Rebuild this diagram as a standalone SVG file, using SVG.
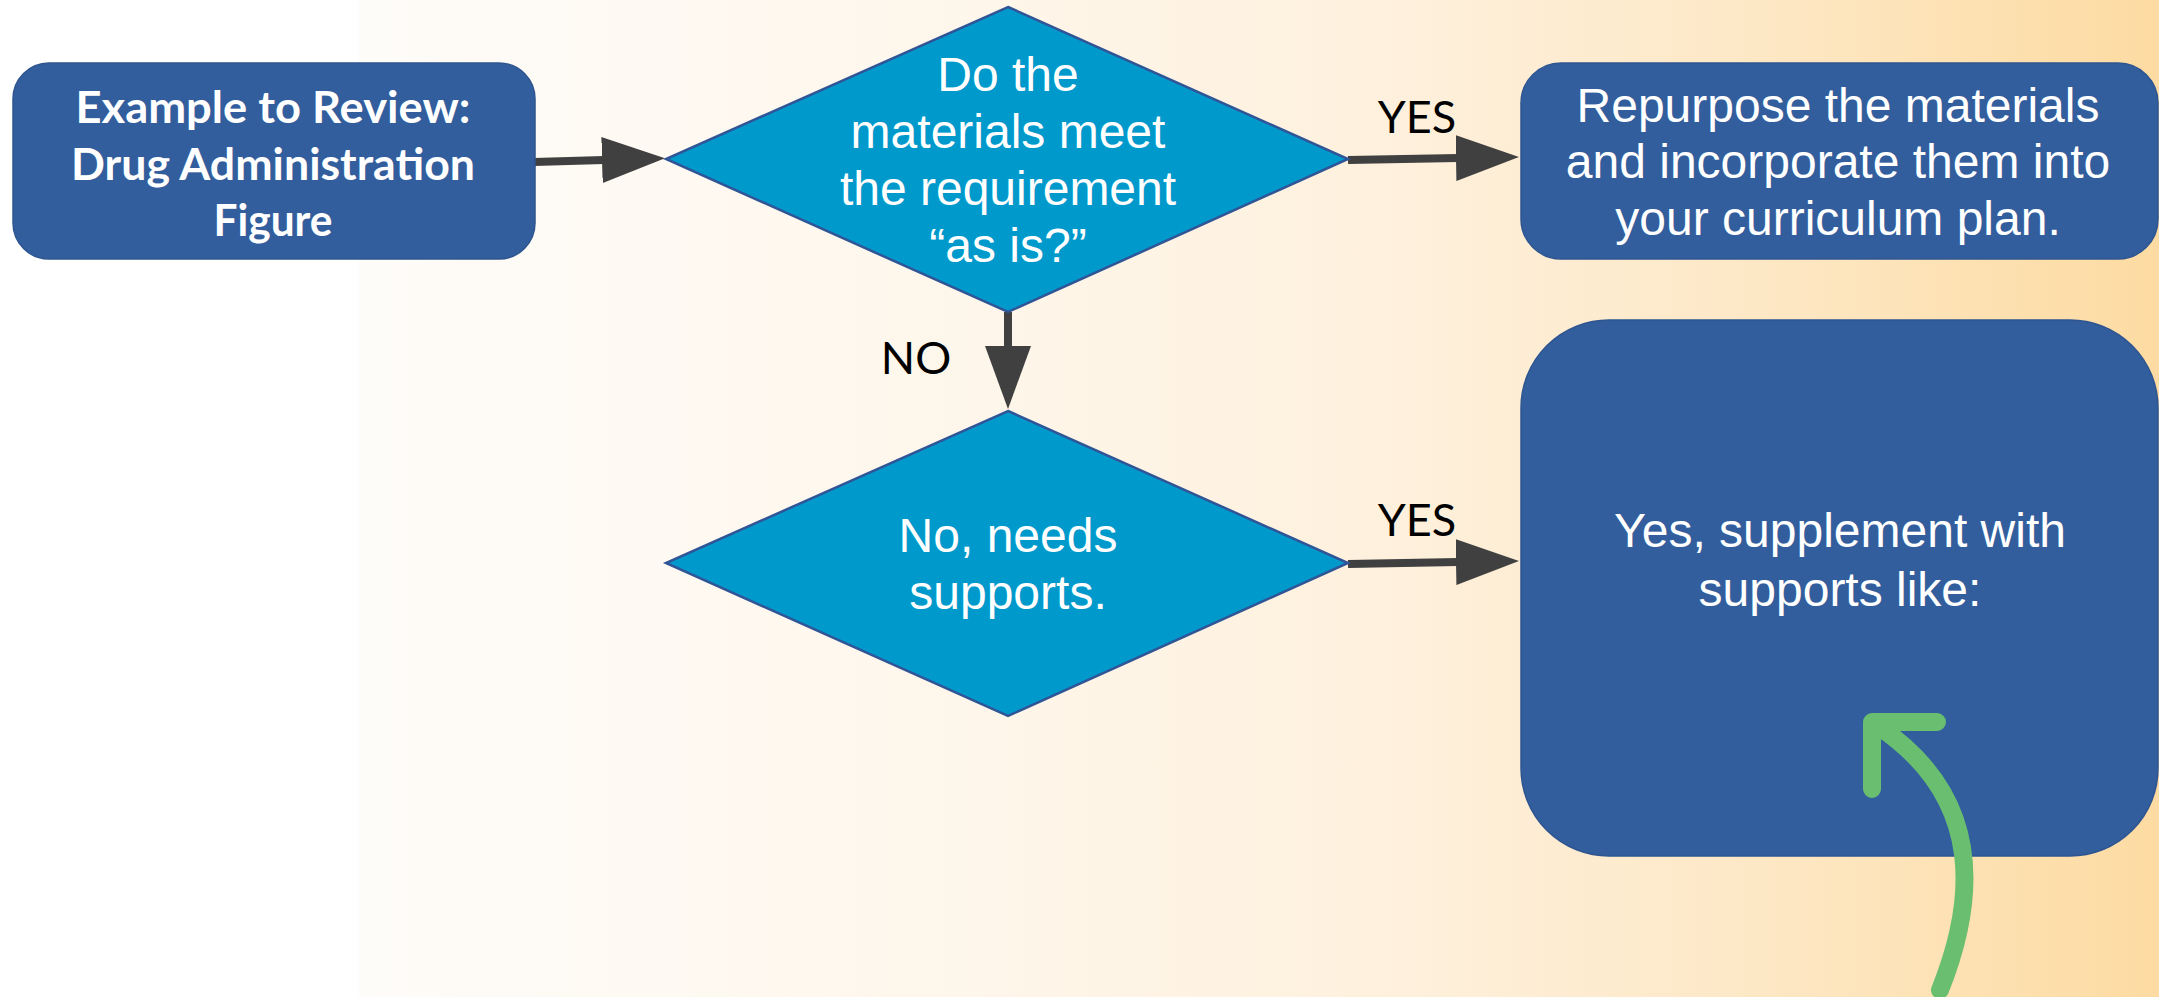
<svg xmlns="http://www.w3.org/2000/svg" width="2159" height="997" viewBox="0 0 2159 997">
  <defs>
    <linearGradient id="bg" x1="0" y1="0" x2="1" y2="0">
      <stop offset="0" stop-color="#FFFFFF"/>
      <stop offset="0.165" stop-color="#FFFFFF"/>
      <stop offset="0.167" stop-color="#FEFCF9"/>
      <stop offset="0.46" stop-color="#FEF6EA"/>
      <stop offset="0.65" stop-color="#FEF0DC"/>
      <stop offset="0.81" stop-color="#FDE8C6"/>
      <stop offset="1" stop-color="#FDDBA2"/>
    </linearGradient>
    <marker id="head" markerUnits="userSpaceOnUse" markerWidth="64" markerHeight="46" refX="2" refY="23" orient="auto">
      <path d="M0,0 L63,23 L0,46 Z" fill="#404040"/>
    </marker>
  </defs>
  <style>
    .box { fill: #325E9D; stroke: #2E5590; stroke-width: 1.5; }
    .dia { fill: #0099CC; stroke: #2F5597; stroke-width: 2.5; stroke-linejoin: miter; }
    .txt { font-family: "Liberation Sans", Arial, sans-serif; font-size: 48px; fill: #FFFFFF; text-anchor: middle; }
    .btxt { font-family: Lato, "Liberation Sans", sans-serif; font-weight: bold; font-size: 44px; fill: #FFFFFF; text-anchor: middle; }
    .lbl { font-family: Lato, "Liberation Sans", sans-serif; font-size: 45px; fill: #000000; text-anchor: middle; }
    .conn { stroke: #404040; stroke-width: 8; fill: none; marker-end: url(#head); }
    .green { stroke: #69BE6F; stroke-width: 18; fill: none; stroke-linecap: round; stroke-linejoin: round; }
  </style>

  <rect x="0" y="0" width="2159" height="997" fill="url(#bg)"/>

  <g id="connectors">
    <line class="conn" x1="534" y1="162" x2="604" y2="160"/>
    <line class="conn" x1="1348" y1="160" x2="1458" y2="158"/>
    <line class="conn" x1="1008" y1="312" x2="1008" y2="348"/>
    <line class="conn" x1="1348" y1="564" x2="1458" y2="562"/>
    <text class="lbl" x="1417" y="133">YES</text>
    <text class="lbl" x="916" y="374">NO</text>
    <text class="lbl" x="1417" y="536">YES</text>
  </g>

  <g id="start-box">
    <rect class="box" x="13" y="63" width="522" height="196" rx="36" ry="36"/>
    <text class="btxt" x="273" y="123" textLength="395" lengthAdjust="spacingAndGlyphs">Example to Review:</text>
    <text class="btxt" x="273" y="180" textLength="404" lengthAdjust="spacingAndGlyphs">Drug Administration</text>
    <text class="btxt" x="273" y="236" textLength="119" lengthAdjust="spacingAndGlyphs">Figure</text>
  </g>

  <g id="decision-as-is">
    <polygon class="dia" points="1008,7 1348,159 1008,312 666,159"/>
    <text class="txt" x="1008" y="91">Do the</text>
    <text class="txt" x="1008" y="148">materials meet</text>
    <text class="txt" x="1008" y="205">the requirement</text>
    <text class="txt" x="1008" y="262">“as is?”</text>
  </g>

  <g id="repurpose-box">
    <rect class="box" x="1521" y="63" width="637" height="196" rx="40" ry="40"/>
    <text class="txt" x="1838" y="122">Repurpose the materials</text>
    <text class="txt" x="1838" y="178">and incorporate them into</text>
    <text class="txt" x="1838" y="235">your curriculum plan.</text>
  </g>

  <g id="decision-supports">
    <polygon class="dia" points="1008,411 1348,563 1008,716 666,563"/>
    <text class="txt" x="1008" y="552">No, needs</text>
    <text class="txt" x="1008" y="609">supports.</text>
  </g>

  <g id="supplement-box">
    <rect class="box" x="1521" y="320" width="637" height="536" rx="88" ry="88"/>
    <text class="txt" x="1840" y="547">Yes, supplement with</text>
    <text class="txt" x="1840" y="606">supports like:</text>
  </g>

  <g id="pointer-arrow">
    <path class="green" d="M1940,990 C1974,905 1988,800 1878,726"/>
    <path class="green" d="M1937,722 L1872,722 L1872,789"/>
  </g>
</svg>
